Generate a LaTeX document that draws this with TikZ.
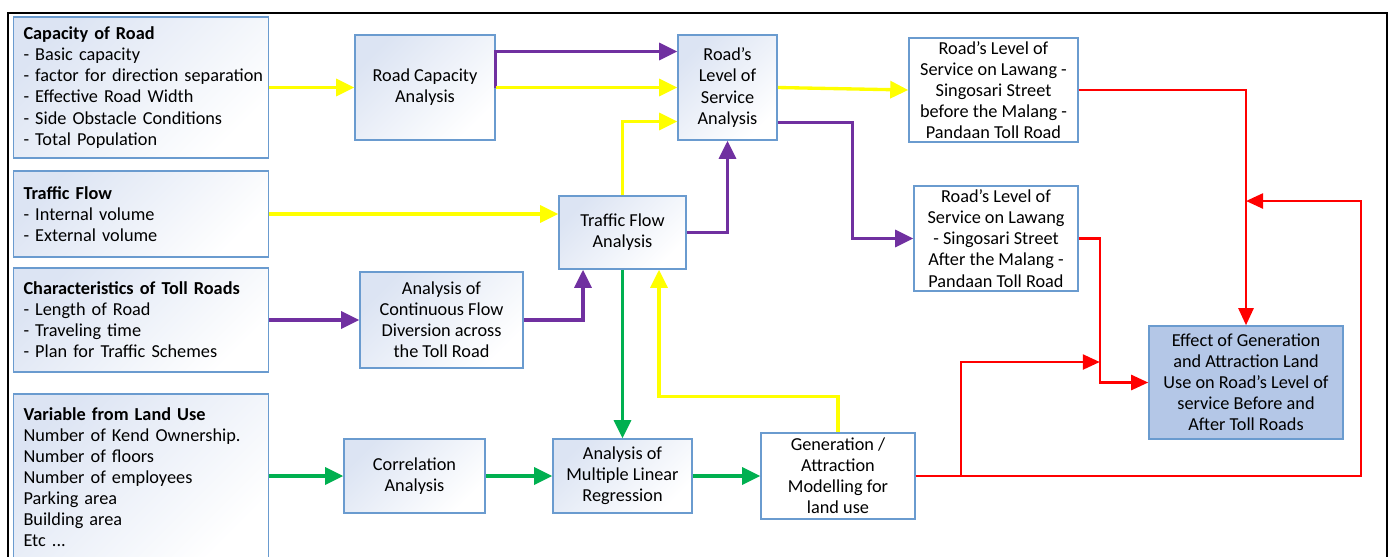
\documentclass[tikz,border=0pt]{standalone}
\usepackage{fontspec}
\setmainfont{Carlito}
\usetikzlibrary{arrows.meta,calc}
\definecolor{boxline}{HTML}{6A9BCF}
\definecolor{boxtint}{HTML}{DCE4F3}
\definecolor{effill}{HTML}{B4C7E7}
\definecolor{ylw}{HTML}{FFFF00}
\definecolor{prp}{HTML}{7030A0}
\definecolor{grn}{HTML}{00B050}
\definecolor{rd}{HTML}{FF0000}

\begin{document}
\begin{tikzpicture}[x=0.02cm,y=-0.02cm,
    box/.style={draw=boxline,line width=0.9pt,align=center,inner sep=0pt,font=\fontsize{10.4}{12}\selectfont},
    blk/.style={box,top color=boxtint,bottom color=white,shading angle=45},
    wbox/.style={box,fill=white},
    ebox/.style={box,fill=effill},
    lbox/.style={blk,align=left,text width=4.7cm,inner xsep=0.2cm},
    yarr/.style={draw=ylw,line width=1.9pt,-{Triangle[length=0.36cm,width=0.34cm]}},
    parr/.style={draw=prp,line width=1.9pt,-{Triangle[length=0.36cm,width=0.34cm]}},
    garr/.style={draw=grn,line width=1.9pt,-{Triangle[length=0.36cm,width=0.34cm]}},
    rarr/.style={draw=rd,line width=1.4pt,-{Triangle[length=0.34cm,width=0.3cm]}}]
    \useasboundingbox (0,0) rectangle (1392,556);
    \draw[line width=0.05cm] (8,570) -- (8,13) -- (1387,13) -- (1387,570);

    \node[lbox,minimum height=2.82cm] (cap) at (141,87.5) {\textbf{Capacity of Road}\\- Basic capacity\\\mbox{- factor for direction separation}\\- Effective Road Width\\- Side Obstacle Conditions\\- Total Population};
    \node[lbox,minimum height=1.72cm] (tflow) at (141,214) {\textbf{Traffic Flow}\\- Internal volume\\- External volume};
    \node[lbox,minimum height=2.08cm] (toll) at (141,320) {\textbf{Characteristics of Toll Roads}\\- Length of Road\\- Traveling time\\- Plan for Traffic Schemes};
    \node[lbox,minimum height=3.32cm] (land) at (141,477) {\textbf{Variable from Land Use}\\Number of Kend Ownership.\\Number of floors\\Number of employees\\Parking area\\Building area\\Etc ...};

    \node[blk,minimum width=2.8cm,minimum height=2.1cm] (rca) at (425,87.5) {Road Capacity\\Analysis};
    \node[blk,minimum width=1.98cm,minimum height=2.1cm] (los) at (727.5,87.5) {Road’s\\Level of\\Service\\Analysis};
    \node[blk,minimum width=2.54cm,minimum height=1.46cm] (tfa) at (622.5,232.5) {Traffic Flow\\Analysis};
    \node[blk,minimum width=3.26cm,minimum height=1.92cm] (cfd) at (441.5,320) {Analysis of\\Continuous Flow\\Diversion across\\the Toll Road};
    \node[blk,minimum width=2.82cm,minimum height=1.48cm] (cor) at (414.5,476) {Correlation\\Analysis};
    \node[blk,minimum width=2.78cm,minimum height=1.48cm] (mlr) at (622.5,476) {Analysis of\\Multiple Linear\\Regression};
    \node[wbox,minimum width=3.08cm,minimum height=1.72cm] (gen) at (838,476) {Generation /\\Attraction\\Modelling for\\land use};
    \node[wbox,minimum width=3.38cm,minimum height=2.08cm] (losb) at (993.5,90) {Road’s Level of\\Service on Lawang -\\Singosari Street\\before the Malang -\\Pandaan Toll Road};
    \node[wbox,minimum width=3.28cm,minimum height=2.1cm] (losa) at (996,238.5) {Road’s Level of\\Service on Lawang\\- Singosari Street\\After the Malang -\\Pandaan Toll Road};
    \node[ebox,minimum width=3.88cm,minimum height=2.26cm] (eff) at (1246,382.5) {Effect of Generation\\and Attraction Land\\Use on Road’s Level of\\service Before and\\After Toll Roads};

    \draw[parr] (rca.east) |- ($(los.west)+(0,-36)$);
    \draw[yarr] (cap.east) -- (rca.west);
    \draw[yarr] (rca.east) -- (los.west);
    \draw[yarr] (tflow.east) -- (tflow.east -| tfa.west);
    \draw[yarr] (tfa.north) |- ($(los.west)+(0,34)$);
    \draw[parr] (tfa.east) -| (los.south);
    \draw[yarr] (los.east) -- (losb.west);
    \draw[parr] ($(los.east)+(0,35)$) -- ++(75,0) |- (losa.west);
    \draw[parr] (toll.east) -- (cfd.west);
    \draw[parr] (cfd.east) -| ($(tfa.south)+(-39.5,0)$);

    \draw[garr] (tfa.south) -- (mlr.north);
    \draw[garr] (cor.west -| land.east) -- (cor.west);
    \draw[garr] (cor.east) -- (mlr.west);
    \draw[garr] (mlr.east) -- (gen.west);
    \draw[yarr] (gen.north) -- ++(0,-36) -| ($(tfa.south)+(36.5,0)$);

    \coordinate (rj) at ($(losa.east)+(21,0)$);
    \coordinate (rt) at (1361,201);
    \draw[rarr] (losb.east) -| (eff.north);
    \draw[rarr] (losa.east) -- (rj) |- (eff.west);
    \draw[rarr] (gen.east) -- ++(45,0) |- ($(rj |- eff.west)+(0,-20.5)$);
    \draw[rarr] (gen.east) -| (rt) -- (rt -| eff.north);
\end{tikzpicture}
\end{document}
